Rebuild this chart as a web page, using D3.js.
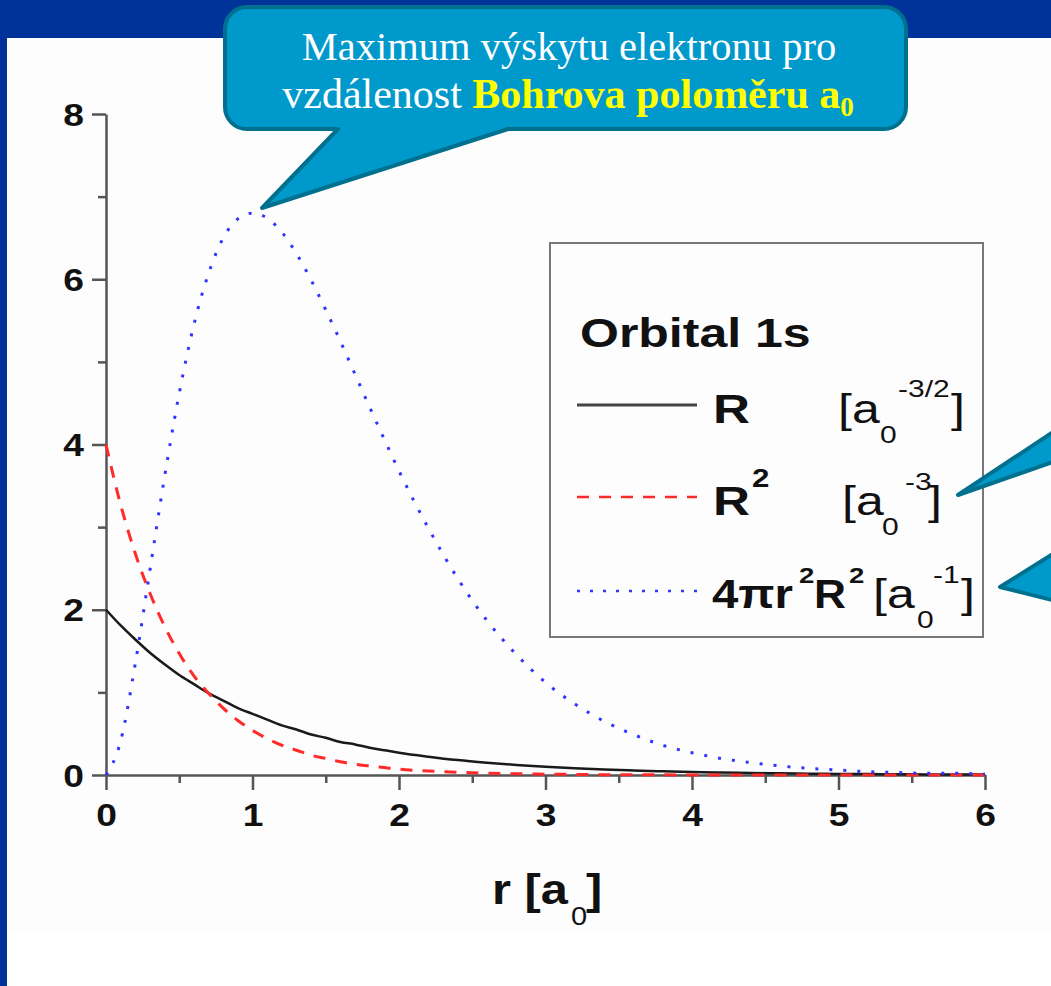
<!DOCTYPE html>
<html>
<head>
<meta charset="utf-8">
<script src="https://cdn.jsdelivr.net/npm/d3@7"></script>
<style>
  html, body { margin: 0; padding: 0; background: #003399; }
  svg { display: block; }
</style>
</head>
<body>
<svg id="chart" width="1051" height="986"></svg>
<script>
// ---------- data ----------
const rValues = [0,0.1,0.2,0.3,0.4,0.5,0.6,0.7,0.8,0.9,1.0,1.1,1.2,1.3,1.4,1.5,1.6,1.7,1.8,1.9,2.0,
                 2.2,2.4,2.6,2.8,3.0,3.2,3.4,3.6,3.8,4.0,4.2,4.4,4.6,4.8,5.0,5.2,5.4,5.6,5.8,6.0];
const seriesR = [2.00,1.81,1.64,1.48,1.34,1.21,1.10,0.99,0.90,0.81,0.74,0.67,0.60,0.55,0.49,0.45,0.40,0.37,0.33,0.30,0.27,
                 0.222,0.181,0.149,0.122,0.100,0.082,0.067,0.055,0.045,0.037,0.030,0.025,0.020,0.016,0.013,0.011,0.009,0.007,0.006,0.005];
const seriesR2 = [4.00,3.27,2.68,2.20,1.80,1.47,1.20,0.99,0.81,0.66,0.54,0.44,0.36,0.30,0.24,0.20,0.16,0.13,0.11,0.09,0.07,
                  0.049,0.033,0.022,0.015,0.010,0.007,0.004,0.003,0.002,0.001,0.001,0.001,0,0,0,0,0,0,0,0];
const seriesP = [0.00,0.41,1.35,2.48,3.61,4.62,5.45,6.07,6.50,6.73,6.80,6.74,6.57,6.31,5.99,5.63,5.25,4.85,4.45,4.06,3.68,
                 2.99,2.38,1.87,1.46,1.12,0.86,0.65,0.49,0.36,0.27,0.20,0.15,0.11,0.08,0.06,0.04,0.03,0.02,0.02,0.01];
const xMajorTicks = [0,1,2,3,4,5,6];
const xMinorTicks = [0.5,1.5,2.5,3.5,4.5,5.5];
const yMajorTicks = [0,2,4,6,8];
const yMinorTicks = [1,3,5,7];
const xDomain = [0,6];
const yDomain = [0,8];

// ---------- setup ----------
const svg = d3.select('#chart');
const SANS = '"Liberation Sans", Arial, Helvetica, sans-serif';
const SERIF = '"Liberation Serif", "Times New Roman", serif';

// white slide panel
svg.append('rect').attr('x',7).attr('y',38).attr('width',1044).attr('height',948).attr('fill','#ffffff');
svg.append('rect').attr('x',7).attr('y',38).attr('width',1044).attr('height',892).attr('fill','#fdfdfd');

const x = d3.scaleLinear().domain(xDomain).range([106,985]);
const y = d3.scaleLinear().domain(yDomain).range([775,114]);

const AXIS_COLOR = '#555';
const TEXT_SX = 1.2;

function styleAxis(g, keepDomain){
  g.select('.domain').attr('stroke', AXIS_COLOR).attr('stroke-width', 2.5);
  if(!keepDomain) g.select('.domain').remove();
  g.selectAll('.tick line').attr('stroke', AXIS_COLOR).attr('stroke-width', 2.5);
}

// minor ticks
const gxm = svg.append('g').attr('transform',`translate(0,${y(0)})`)
  .call(d3.axisBottom(x).tickValues(xMinorTicks).tickSize(8).tickSizeOuter(0).tickFormat(''));
styleAxis(gxm,false);
const gym = svg.append('g').attr('transform',`translate(${x(0)},0)`)
  .call(d3.axisLeft(y).tickValues(yMinorTicks).tickSize(8).tickSizeOuter(0).tickFormat(''));
styleAxis(gym,false);

// major axes
const gx = svg.append('g').attr('transform',`translate(0,${y(0)})`)
  .call(d3.axisBottom(x).tickValues(xMajorTicks).tickSize(15).tickSizeOuter(0).tickFormat(d3.format('d')));
styleAxis(gx,true);
gx.selectAll('.tick text')
  .attr('y',51).attr('dy',null)
  .attr('transform',`scale(${TEXT_SX},1)`)
  .attr('font-family',SANS).attr('font-weight','bold').attr('font-size',31).attr('fill','#111');

const gy = svg.append('g').attr('transform',`translate(${x(0)},0)`)
  .call(d3.axisLeft(y).tickValues(yMajorTicks).tickSize(14).tickSizeOuter(0).tickFormat(d3.format('d')));
styleAxis(gy,true);
gy.selectAll('.tick text')
  .attr('x',-22/TEXT_SX).attr('y',11).attr('dy',null)
  .attr('transform',`scale(${TEXT_SX},1)`)
  .attr('font-family',SANS).attr('font-weight','bold').attr('font-size',31).attr('fill','#111');

// ---------- series ----------
const line = (vals) => d3.line()
  .x((d,i)=>x(rValues[i])).y(d=>y(d)).curve(d3.curveMonotoneX)(vals);

const seriesStyles = [
  {vals: seriesR,  stroke:'#1a1a1a', width:2.5, dash:null},
  {vals: seriesR2, stroke:'#ff2a2a', width:3,   dash:'12,10'},
  {vals: seriesP,  stroke:'#3333ff', width:3,   dash:'3,11'}
];
seriesStyles.forEach(s=>{
  svg.append('path').attr('d', line(s.vals))
    .attr('fill','none').attr('stroke',s.stroke).attr('stroke-width',s.width)
    .attr('stroke-dasharray',s.dash);
});

// ---------- text helper ----------
function label(xp, yp, str, o={}){
  const sx = o.sx||1;
  const t = svg.append('text')
    .attr('transform',`translate(${xp},${yp}) scale(${sx},1)`)
    .attr('font-family', o.family||SANS)
    .attr('font-size', o.size||40)
    .attr('font-weight', o.weight||'normal')
    .attr('fill', o.fill||'#111')
    .attr('text-anchor', o.anchor||'start')
    .text(str);
  if(o.width){ t.attr('textLength', o.width/sx).attr('lengthAdjust','spacingAndGlyphs'); }
  return t;
}

// x axis title: r [a0]
label(492, 904, 'r [a', {size:42, weight:'bold', sx:1.16});
label(571, 925, '0',    {size:25, weight:'normal', sx:1.16});
label(586, 904, ']',    {size:42, weight:'bold', sx:1.16});

// ---------- legend ----------
svg.append('rect').attr('x',550).attr('y',243).attr('width',433).attr('height',394)
  .attr('fill','none').attr('stroke','#777').attr('stroke-width',2);

const LSX = 1.25;
label(580, 347, 'Orbital 1s', {size:40, weight:'bold', sx:LSX});

svg.append('line').attr('x1',577).attr('x2',697).attr('y1',405).attr('y2',405)
  .attr('stroke','#444').attr('stroke-width',3);
svg.append('line').attr('x1',577).attr('x2',697).attr('y1',497).attr('y2',497)
  .attr('stroke','#ff2a2a').attr('stroke-width',2.5).attr('stroke-dasharray','12,10');
svg.append('line').attr('x1',577).attr('x2',697).attr('y1',591).attr('y2',591)
  .attr('stroke','#3333ff').attr('stroke-width',2.5).attr('stroke-dasharray','3,10');

// row 1: R [a0^-3/2]
label(713, 423, 'R',    {size:41, weight:'bold', sx:LSX});
label(838, 423, '[a',   {size:40, sx:LSX});
label(880, 443, '0',    {size:24, sx:LSX});
label(898, 397, '-3/2', {size:24, sx:LSX});
label(951, 423, ']',    {size:40, sx:LSX});

// row 2: R^2 [a0^-3]
label(713, 515, 'R',    {size:41, weight:'bold', sx:LSX});
label(752, 487, '2',    {size:25, weight:'bold', sx:LSX});
label(842, 515, '[a',   {size:40, sx:LSX});
label(882, 535, '0',    {size:24, sx:LSX});
label(905, 490, '-3',   {size:24, sx:LSX});
label(928, 515, ']',    {size:40, sx:LSX});

// row 3: 4πr^2R^2 [a0^-1]
label(712, 608, '4πr',  {size:41, weight:'bold', sx:LSX, width:81});
label(799, 583, '2',    {size:22, weight:'bold', sx:LSX});
label(814, 608, 'R',    {size:41, weight:'bold', sx:LSX, width:32});
label(849, 583, '2',    {size:22, weight:'bold', sx:LSX});
label(873, 608, '[a',   {size:40, sx:LSX});
label(917, 628, '0',    {size:24, sx:LSX});
label(933, 583, '-1',   {size:24, sx:LSX});
label(961, 608, ']',    {size:40, sx:LSX});

// ---------- callouts ----------
const CALL_FILL = '#0099cc', CALL_STROKE = '#00708f';
svg.append('path')
  .attr('d','M247,7 H884 A22,22 0 0 1 906,29 V107 A22,22 0 0 1 884,129 H508 L262,208 L338,129 H247 A22,22 0 0 1 225,107 V29 A22,22 0 0 1 247,7 Z')
  .attr('fill',CALL_FILL).attr('stroke',CALL_STROKE).attr('stroke-width',4).attr('stroke-linejoin','round');

// right-side callout pointers (bodies off-screen)
svg.append('path').attr('d','M1056,430 L958,495 L1056,461 Z')
  .attr('fill',CALL_FILL).attr('stroke',CALL_STROKE).attr('stroke-width',4).attr('stroke-linejoin','round');
svg.append('path').attr('d','M1056,552 L1000,587 L1056,601 Z')
  .attr('fill',CALL_FILL).attr('stroke',CALL_STROKE).attr('stroke-width',4).attr('stroke-linejoin','round');

svg.append('text').attr('x',569).attr('y',60).attr('text-anchor','middle')
  .attr('font-family',SERIF).attr('font-size',40.5).attr('fill','#ffffff')
  .text('Maximum výskytu elektronu pro');
const c2 = svg.append('text').attr('x',568).attr('y',108).attr('text-anchor','middle')
  .attr('font-family',SERIF).attr('font-size',42).attr('fill','#ffffff');
c2.append('tspan').text('vzdálenost ');
c2.append('tspan').attr('fill','#ffff00').attr('font-weight','bold').text('Bohrova poloměru a');
c2.append('tspan').attr('fill','#ffff00').attr('font-weight','bold').attr('font-size',27).attr('dy',8).text('0');
</script>
</body>
</html>
